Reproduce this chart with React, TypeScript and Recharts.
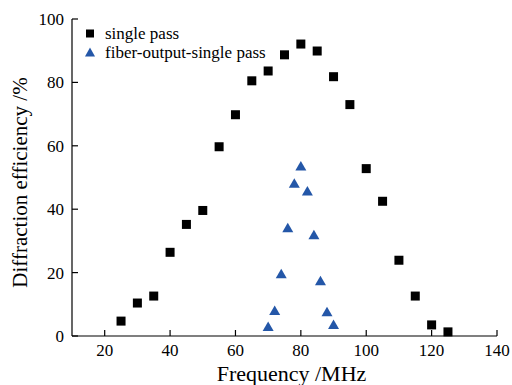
import React from "react";
import { ScatterChart, Scatter, XAxis, YAxis, Legend } from "recharts";

const singleFreq = [25, 30, 35, 40, 45, 50, 55, 60, 65, 70, 75, 80, 85, 90, 95, 100, 105, 110, 115, 120, 125];
const singleEff = [4.7, 10.4, 12.6, 26.4, 35.2, 39.6, 59.7, 69.8, 80.5, 83.6, 88.7, 92.1, 89.9, 81.8, 73, 52.8, 42.5, 23.9, 12.6, 3.5, 1.3];
const fiberFreq = [70, 72, 74, 76, 78, 80, 82, 84, 86, 88, 90];
const fiberEff = [2.8, 7.9, 19.5, 34, 48, 53.5, 45.6, 31.8, 17.3, 7.5, 3.5];
const xTicks = [20, 40, 60, 80, 100, 120, 140];
const yTicks = [0, 20, 40, 60, 80, 100];

const singleData = singleFreq.map((f, i) => ({ x: f, y: singleEff[i] }));
const fiberData = fiberFreq.map((f, i) => ({ x: f, y: fiberEff[i] }));

const BLUE = "#2457a8";
const FONT = "Liberation Serif, DejaVu Serif, serif";

const Square = (props: any) => {
  const { cx, cy } = props;
  if (cx == null || cy == null) return null;
  return <rect x={cx - 4.5} y={cy - 4.5} width={9} height={9} fill="#000" />;
};

const Triangle = (props: any) => {
  const { cx, cy } = props;
  if (cx == null || cy == null) return null;
  return (
    <polygon
      points={`${cx},${cy - 5.5} ${cx + 5.5},${cy + 4} ${cx - 5.5},${cy + 4}`}
      fill={BLUE}
    />
  );
};

const LegendContent = () => (
  <div style={{ fontFamily: FONT, fontSize: 17, color: "#000", lineHeight: "19px" }}>
    <div style={{ display: "flex", alignItems: "center", height: 19 }}>
      <svg width={21} height={19}>
        <rect x={2} y={5.5} width={8} height={8} fill="#000" />
      </svg>
      <span>single pass</span>
    </div>
    <div style={{ display: "flex", alignItems: "center", height: 19 }}>
      <svg width={21} height={19}>
        <polygon points="6,4.5 11,13.5 1,13.5" fill={BLUE} />
      </svg>
      <span>fiber-output-single pass</span>
    </div>
  </div>
);

export default function App() {
  return (
    <div style={{ position: "absolute", left: 0, top: 0, width: 512, height: 385 }}>
      <ScatterChart
        width={512}
        height={385}
        margin={{ top: 19, right: 15, bottom: 0, left: 12 }}
      >
        <XAxis
          type="number"
          dataKey="x"
          xAxisId="b"
          domain={[10, 140]}
          ticks={xTicks}
          tickSize={-6}
          tickMargin={14}
          stroke="#000"
          strokeWidth={1.2}
          height={49}
          tick={{ fill: "#000", fontFamily: FONT, fontSize: 17 }}
          label={{
            value: "Frequency /MHz",
            position: "insideBottom",
            offset: 4,
            dx: 7,
            style: { fill: "#000", fontFamily: FONT, fontSize: 22, textAnchor: "middle" },
          }}
        />
        <XAxis
          type="number"
          dataKey="x"
          xAxisId="t"
          orientation="top"
          domain={[10, 140]}
          tick={false}
          tickLine={false}
          height={0}
          stroke="#000"
          strokeWidth={1.2}
        />
        <YAxis
          type="number"
          dataKey="y"
          yAxisId="l"
          domain={[0, 100]}
          ticks={yTicks}
          tickSize={-6}
          tickMargin={14}
          stroke="#000"
          strokeWidth={1.2}
          width={60}
          tick={{ fill: "#000", fontFamily: FONT, fontSize: 17 }}
          label={{
            value: "Diffraction efficiency /%",
            angle: -90,
            position: "insideLeft",
            offset: 0,
            dx: 8,
            dy: 5,
            style: { fill: "#000", fontFamily: FONT, fontSize: 21, textAnchor: "middle" },
          }}
        />
        <YAxis
          type="number"
          dataKey="y"
          yAxisId="r"
          orientation="right"
          domain={[0, 100]}
          tick={false}
          tickLine={false}
          width={0}
          stroke="#000"
          strokeWidth={1.2}
        />
        <Legend
          verticalAlign="middle"
          align="center"
          layout="horizontal"
          content={<LegendContent />}
          wrapperStyle={{ top: 24, left: 84, width: 260 }}
        />
        <Scatter
          name="single pass"
          data={singleData}
          xAxisId="b"
          yAxisId="l"
          shape={<Square />}
          isAnimationActive={false}
        />
        <Scatter
          name="fiber-output-single pass"
          data={fiberData}
          xAxisId="b"
          yAxisId="l"
          shape={<Triangle />}
          isAnimationActive={false}
        />
        <Scatter data={[]} xAxisId="t" yAxisId="r" isAnimationActive={false} />
      </ScatterChart>
    </div>
  );
}
